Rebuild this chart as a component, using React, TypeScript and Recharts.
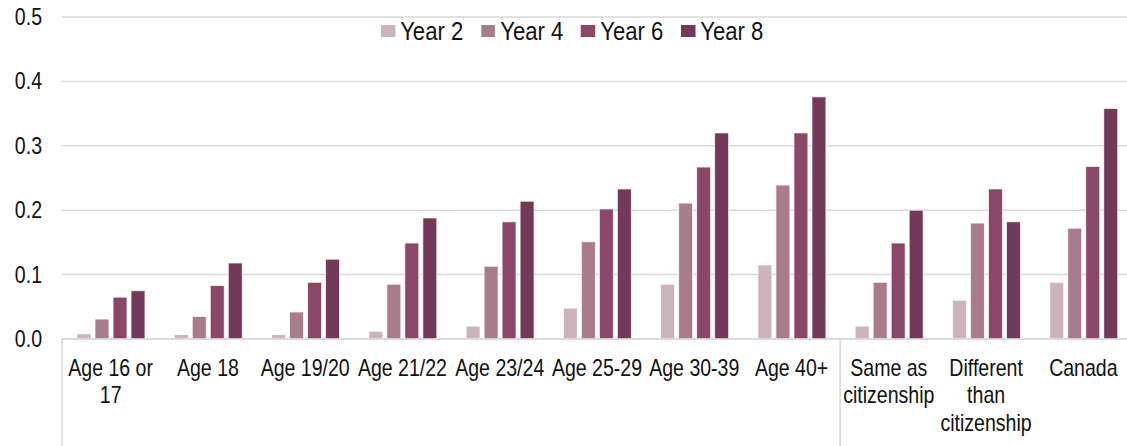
import { BarChart, Bar, XAxis, YAxis, CartesianGrid } from "recharts";

const categories = [
  "Age 16 or\n17",
  "Age 18",
  "Age 19/20",
  "Age 21/22",
  "Age 23/24",
  "Age 25-29",
  "Age 30-39",
  "Age 40+",
  "Same as\ncitizenship",
  "Different\nthan\ncitizenship",
  "Canada",
];

const year2 = [0.008, 0.007, 0.007, 0.012, 0.02, 0.048, 0.085, 0.115, 0.02, 0.06, 0.088];
const year4 = [0.031, 0.035, 0.042, 0.085, 0.113, 0.151, 0.211, 0.239, 0.088, 0.18, 0.172];
const year6 = [0.065, 0.083, 0.088, 0.149, 0.182, 0.202, 0.267, 0.32, 0.149, 0.233, 0.268];
const year8 = [0.075, 0.118, 0.124, 0.188, 0.214, 0.233, 0.32, 0.376, 0.2, 0.182, 0.358];

const yTicks = [0, 0.1, 0.2, 0.3, 0.4, 0.5];

// first category of each outer group gets a separator on its left edge
const groupStarts = [0, 8];

const series = [
  { key: "y2", name: "Year 2", color: "#CBB4BC", values: year2 },
  { key: "y4", name: "Year 4", color: "#A87C8C", values: year4 },
  { key: "y6", name: "Year 6", color: "#8B4767", values: year6 },
  { key: "y8", name: "Year 8", color: "#723A58", values: year8 },
];

const data = categories.map((c, i) => {
  const row: Record<string, string | number> = { cat: c };
  series.forEach((s) => (row[s.key] = s.values[i]));
  return row;
});

// no narrow font installed, so squeeze Liberation Sans horizontally
const FONT = "'Liberation Sans', Arial, sans-serif";
const SQUEEZE = 0.85;

function CatTick(props: any) {
  const { x, y, payload, index } = props;
  const lines = String(payload.value).split("\n");
  const half = payload.offset ?? 48.6;
  return (
    <g>
      {groupStarts.includes(index) && (
        <line x1={x - half} x2={x - half} y1={y} y2={y + 120} stroke="#d9d9d9" strokeWidth={1.5} />
      )}
      <text
        transform={`translate(${x},${y + 37}) scale(${SQUEEZE},1)`}
        textAnchor="middle"
        fontFamily={FONT}
        fontSize={23}
        fill="#111"
      >
        {lines.map((l, i) => (
          <tspan key={i} x={0} dy={i === 0 ? 0 : 27.5}>
            {l}
          </tspan>
        ))}
      </text>
    </g>
  );
}

function ValTick(props: any) {
  const { x, y, payload } = props;
  return (
    <text
      transform={`translate(${x},${y + 8}) scale(${SQUEEZE},1)`}
      textAnchor="end"
      fontFamily={FONT}
      fontSize={23}
      fill="#111"
    >
      {Number(payload.value).toFixed(1)}
    </text>
  );
}

function ChartLegend() {
  return (
    <div
      style={{
        position: "absolute",
        left: 381,
        top: 18,
        display: "flex",
        alignItems: "center",
        fontFamily: FONT,
        fontSize: 26,
        lineHeight: "26px",
        color: "#111",
        transform: `scaleX(${SQUEEZE})`,
        transformOrigin: "left center",
        whiteSpace: "nowrap",
      }}
    >
      {series.map((s) => (
        <div key={s.key} style={{ display: "flex", alignItems: "center", marginRight: 21 }}>
          <span style={{ width: 16.5, height: 12, background: s.color, display: "inline-block", marginRight: 6 }} />
          <span>{s.name}</span>
        </div>
      ))}
    </div>
  );
}

export default function App() {
  return (
    <div style={{ position: "absolute", left: 0, top: 0, width: 1127, height: 446, overflow: "hidden", background: "#fff" }}>
      <BarChart
        width={1135}
        height={446}
        data={data}
        margin={{ top: 17, right: 3, left: 0, bottom: 0 }}
        barSize={14}
        barGap={4}
      >
        <CartesianGrid vertical={false} stroke="#d9d9d9" strokeWidth={1.5} />
        <XAxis
          dataKey="cat"
          interval={0}
          height={107}
          tickLine={false}
          tickSize={0}
          tickMargin={0}
          axisLine={{ stroke: "#d9d9d9", strokeWidth: 1.5 }}
          tick={<CatTick />}
        />
        <YAxis
          width={62}
          domain={[0, 0.5]}
          ticks={yTicks}
          axisLine={false}
          tickLine={false}
          tickSize={0}
          tickMargin={20}
          tick={<ValTick />}
        />
        {series.map((s) => (
          <Bar
            key={s.key}
            dataKey={s.key}
            name={s.name}
            fill={s.color}
            stroke="#fff"
            strokeWidth={0.75}
            isAnimationActive={false}
          />
        ))}
      </BarChart>
      <ChartLegend />
    </div>
  );
}
